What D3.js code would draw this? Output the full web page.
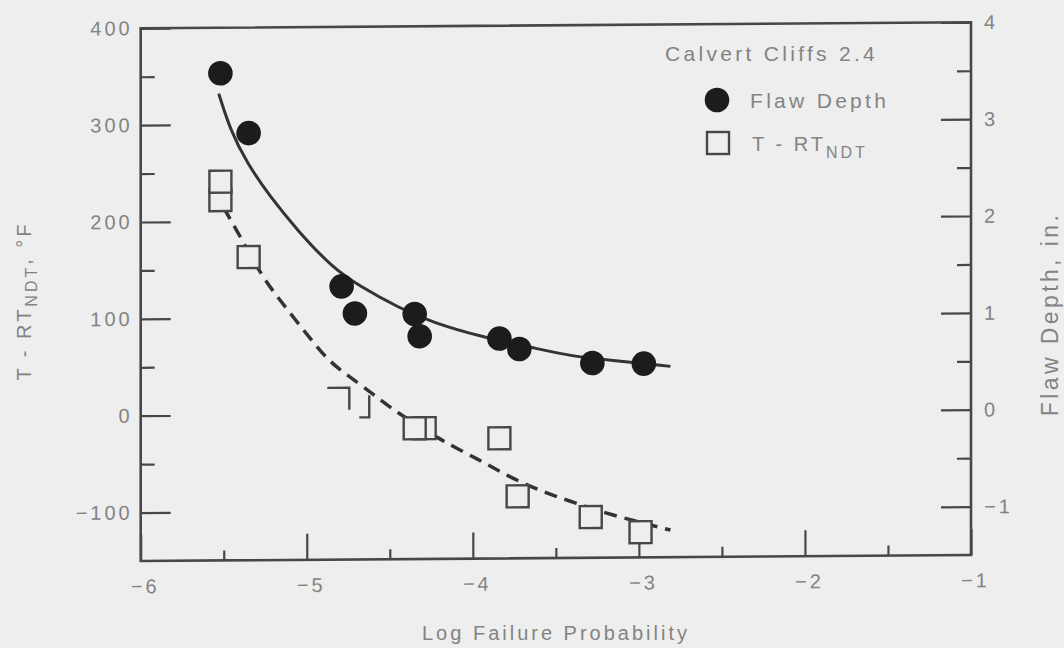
<!DOCTYPE html>
<html>
<head>
<meta charset="utf-8">
<script src="https://cdn.jsdelivr.net/npm/d3@7"></script>
<style>
  html, body { margin: 0; padding: 0; background: #eeeeee; }
  svg { display: block; }
  text { font-family: "Liberation Sans", Arial, sans-serif; fill: #838383; }
</style>
</head>
<body>
<svg id="chart" width="1064" height="648"></svg>
<script>
// ---------------- data ----------------
const xTicks = [-6, -5, -4, -3, -2, -1];
const xMinorTicks = [-5.5, -4.5, -3.5, -2.5, -1.5];
const leftTicks = [-100, 0, 100, 200, 300, 400];
const leftMinorTicks = [-50, 50, 150, 250, 350];
const rightTicks = [-1, 0, 1, 2, 3, 4];
const rightMinorTicks = [-0.5, 0.5, 1.5, 2.5, 3.5];

// Flaw depth (in.), filled circles
const flawLogP  = [-5.52, -5.35, -4.79, -4.71, -4.35, -4.32, -3.84, -3.72, -3.28, -2.97];
const flawDepth = [3.53, 2.91, 1.32, 1.04, 1.03, 0.80, 0.77, 0.66, 0.51, 0.50];

// T - RT_NDT (°F), open squares (later entries drawn on top)
const tempLogP = [-5.52, -5.52, -5.35, -4.81, -4.69, -4.29, -4.35, -3.84, -3.73, -3.29, -2.99];
const tempVal  = [222, 241, 163, 16, 8, -15, -15, -26, -86, -108, -124];

// fitted curves
const flawFitLogP = [-5.53, -5.46, -5.36, -5.22, -5.06, -4.85, -4.68, -4.44, -4.24, -3.95, -3.63, -3.40, -3.18, -2.81];
const flawFitVal  = [3.32, 2.94, 2.60, 2.25, 1.91, 1.52, 1.32, 1.09, 0.94, 0.79, 0.67, 0.58, 0.54, 0.47];
const tempFitLogP = [-5.50, -5.39, -5.27, -5.16, -4.96, -4.86, -4.76, -4.58, -4.48, -4.18, -3.96, -3.78, -3.60, -3.44, -3.17, -2.81];
const tempFitVal  = [214, 181, 143, 118, 74, 54, 41, 18, 4, -29, -48, -66, -80, -90, -106, -122];

// ---------------- layout ----------------
const svg = d3.select("#chart");
const X0 = 140.7, X1 = 971, Y0 = 28.3, Y1 = 561;
const x = d3.scaleLinear().domain([-6, -1]).range([X0, X1]);
const yL = d3.scaleLinear().domain([-150, 400]).range([Y1, Y0]);
const yR = d3.scaleLinear().domain([-1.5, 4]).range([Y1, Y0]);

const k = 6 / 830; // slight scan skew
const g = svg.append("g").attr("transform", `matrix(1,${-k},0,1,0,${k * X0})`);

const ink = "#333333";
const FS = 20, LS = 3;

// frame
g.append("rect").attr("x", X0).attr("y", Y0).attr("width", X1 - X0).attr("height", Y1 - Y0)
  .attr("fill", "none").attr("stroke", "#474747").attr("stroke-width", 2.6);

function styleAxis(sel) {
  sel.select(".domain").remove();
  sel.selectAll(".tick line").attr("stroke", "#474747").attr("stroke-width", 2.2);
  sel.selectAll(".tick text").style("font-size", FS + "px").style("letter-spacing", LS + "px")
     .attr("fill", "#838383");
}

// left axis
const fmt = d => d < 0 ? "\u2212" + Math.abs(d) : String(d);
g.append("g").attr("transform", `translate(${X0},0)`)
  .call(d3.axisLeft(yL).tickValues(leftTicks).tickSize(-30).tickPadding(8).tickFormat(fmt))
  .call(styleAxis);
g.append("g").attr("transform", `translate(${X0},0)`)
  .call(d3.axisLeft(yL).tickValues(leftMinorTicks).tickSize(-14).tickFormat(""))
  .call(styleAxis);

// right axis
g.append("g").attr("transform", `translate(${X1},0)`)
  .call(d3.axisRight(yR).tickValues(rightTicks).tickSize(-30).tickPadding(13).tickFormat(fmt))
  .call(styleAxis);
g.append("g").attr("transform", `translate(${X1},0)`)
  .call(d3.axisRight(yR).tickValues(rightMinorTicks).tickSize(-14).tickFormat(""))
  .call(styleAxis);

// bottom axis
g.append("g").attr("transform", `translate(0,${Y1})`)
  .call(d3.axisBottom(x).tickValues(xTicks).tickSize(-26).tickPadding(18).tickFormat(fmt))
  .call(styleAxis)
  .call(s => s.selectAll(".tick text").attr("dx", 4));
g.append("g").attr("transform", `translate(0,${Y1})`)
  .call(d3.axisBottom(x).tickValues(xMinorTicks).tickSize(-10).tickFormat(""))
  .call(styleAxis);

// curves
const flawLine = d3.line().x(d => x(d[0])).y(d => yR(d[1])).curve(d3.curveBasis);
const tempLine = d3.line().x(d => x(d[0])).y(d => yL(d[1])).curve(d3.curveBasis);

g.append("path").datum(flawFitLogP.map((v, i) => [v, flawFitVal[i]]))
  .attr("d", flawLine).attr("fill", "none").attr("stroke", ink).attr("stroke-width", 3);
g.append("path").datum(tempFitLogP.map((v, i) => [v, tempFitVal[i]]))
  .attr("d", tempLine).attr("fill", "none").attr("stroke", ink).attr("stroke-width", 3.5)
  .attr("stroke-dasharray", "13 8");

// squares (two are only partly printed in the source)
const SQ = 22;
const partial = { 3: "44 44", 4: "0 22 32 100" };
g.selectAll("rect.sq").data(tempLogP.map((v, i) => [v, tempVal[i]])).join("rect")
  .attr("class", "sq")
  .attr("x", d => x(d[0]) - SQ / 2).attr("y", d => yL(d[1]) - SQ / 2)
  .attr("width", SQ).attr("height", SQ)
  .attr("fill", (d, i) => partial[i] ? "none" : "#eeeeee")
  .attr("stroke", "#474747").attr("stroke-width", 2.4)
  .attr("stroke-dasharray", (d, i) => partial[i] || null);

// circles
g.selectAll("circle.fd").data(flawLogP.map((v, i) => [v, flawDepth[i]])).join("circle")
  .attr("class", "fd")
  .attr("cx", d => x(d[0])).attr("cy", d => yR(d[1])).attr("r", 12.3)
  .attr("fill", "#1c1c1c");

// legend
const lg = svg.append("g");
lg.append("text").attr("x", 665).attr("y", 61).style("font-size", "21px").style("letter-spacing", "3.3px")
  .text("Calvert Cliffs 2.4");
lg.append("circle").attr("cx", 717).attr("cy", 100).attr("r", 12.3).attr("fill", "#1c1c1c");
lg.append("text").attr("x", 750).attr("y", 108).style("font-size", "21px").style("letter-spacing", "3.3px")
  .text("Flaw Depth");
lg.append("rect").attr("x", 718 - SQ / 2).attr("y", 143 - SQ / 2).attr("width", SQ).attr("height", SQ)
  .attr("fill", "none").attr("stroke", "#474747").attr("stroke-width", 2.4);
const lt = lg.append("text").attr("x", 752).attr("y", 151).style("font-size", "20px").style("letter-spacing", "3px");
lt.append("tspan").text("T - RT");
lt.append("tspan").attr("dy", 7).style("font-size", "16px").text("NDT");

// axis titles
svg.append("text").attr("x", 556).attr("y", 640).attr("text-anchor", "middle")
  .style("font-size", FS + "px").style("letter-spacing", LS + "px").text("Log Failure Probability");

const yt = svg.append("text").attr("transform", "translate(31,301) rotate(-90)").attr("text-anchor", "middle")
  .style("font-size", FS + "px").style("letter-spacing", LS + "px");
yt.append("tspan").text("T - RT");
yt.append("tspan").attr("dy", 6).style("font-size", "16px").text("NDT");
yt.append("tspan").attr("dy", -6).text(", \u00B0F");

svg.append("text").attr("transform", "translate(1058,314) rotate(-90)").attr("text-anchor", "middle")
  .style("font-size", "23px").style("letter-spacing", "3.4px").text("Flaw Depth, in.");
</script>
</body>
</html>
